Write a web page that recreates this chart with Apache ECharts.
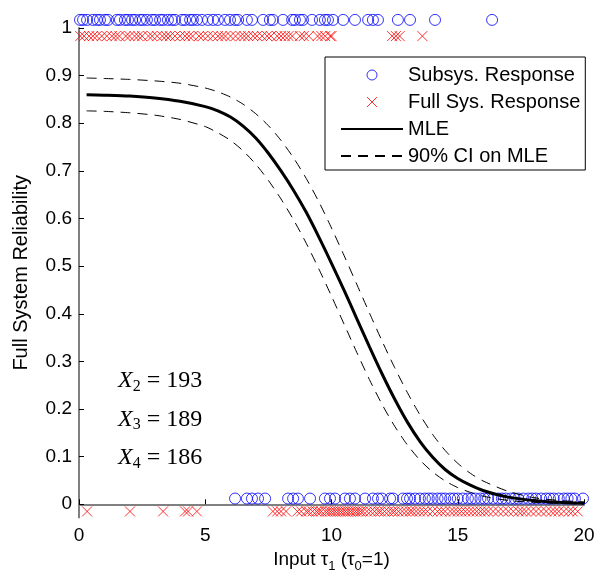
<!DOCTYPE html>
<html>
<head>
<meta charset="utf-8">
<script src="https://cdn.jsdelivr.net/npm/echarts@6/dist/echarts.min.js"></script>
<style>html,body{margin:0;padding:0;background:#fff}#c{width:598px;height:578px}</style>
</head>
<body>
<div id="c"></div>
<script>
// ---- data ----
const subsysTopX = [0.04,0.16,0.32,0.55,0.71,0.83,1.03,1.15,1.50,1.62,1.82,1.94,2.10,2.22,2.42,2.53,2.69,2.89,3.01,3.21,3.33,3.52,3.68,3.80,4.08,4.20,4.40,4.51,4.67,4.87,5.11,5.31,5.50,5.78,5.98,6.18,6.30,6.65,6.85,7.29,7.56,7.68,8.08,8.44,8.55,8.75,8.87,9.23,9.54,9.74,9.86,10.06,10.46,10.93,11.45,11.64,11.84,12.63,13.11,14.10,16.36];
const subsysBottomX = [6.18,6.65,6.85,7.09,7.37,8.28,8.48,8.67,9.15,9.74,9.94,10.14,10.53,10.73,10.93,11.33,11.64,11.84,12.0,12.32,12.44,12.83,12.99,13.11,13.31,13.5,13.7,13.85,14.0,14.2,14.35,14.5,14.7,14.85,15.0,15.2,15.4,15.55,15.7,15.9,16.05,16.2,16.4,16.6,16.75,16.9,17.1,17.25,17.4,17.6,17.8,17.95,18.1,18.3,18.5,18.65,18.8,19.0,19.2,19.35,19.5,19.64,19.96];
const fullTopX = [0.05,0.2,0.4,0.55,0.7,0.9,1.1,1.3,1.45,1.6,1.85,2.0,2.2,2.35,2.5,2.75,2.9,3.1,3.3,3.45,3.6,3.8,4.0,4.2,4.35,4.5,4.75,4.9,5.1,5.3,5.5,5.65,5.8,6.0,6.2,6.4,6.55,6.7,6.9,7.05,7.25,7.45,7.6,7.85,8.0,8.15,8.3,8.45,8.75,8.9,9.1,9.45,9.6,9.75,9.95,10.0,12.4,12.55,12.7,13.6];
const fullBottomX = [0.32,2.02,3.33,4.20,4.32,4.67,7.68,7.85,8.0,8.2,8.65,8.8,9.0,9.1,9.25,9.4,9.5,9.6,9.75,9.85,9.95,10.05,10.15,10.25,10.35,10.45,10.55,10.65,10.75,10.85,10.95,11.05,11.15,11.25,11.4,11.55,11.7,11.85,11.95,12.1,12.25,12.4,12.5,12.65,12.8,12.95,13.1,13.2,13.35,13.5,13.65,13.8,14.0,14.2,14.35,14.5,14.7,14.85,15.0,15.15,15.3,15.45,15.6,15.75,15.9,16.05,16.2,16.4,16.6,16.8,17.0,17.2,17.4,17.55,17.7,17.9,18.1,18.3,18.5,18.7,18.85,19.0,19.2,19.4,19.55,19.75];
const subsysTopY = 1.017, subsysBottomY = 0.012, fullTopY = 0.983, fullBottomY = -0.015;

const curveX = [0.3,1,2,3,4,5,5.5,6,6.5,7,7.5,8,8.5,9,9.5,10,10.5,11,11.5,12,12.5,13,13.5,14,14.5,15,15.5,16,17,18,19,20];
const mleY   = [0.860,0.859,0.857,0.853,0.846,0.835,0.826,0.813,0.794,0.769,0.737,0.700,0.659,0.613,0.561,0.506,0.449,0.390,0.331,0.274,0.221,0.173,0.132,0.099,0.073,0.054,0.040,0.029,0.015,0.008,0.004,0.002];
const ciUpY  = [0.895,0.894,0.892,0.889,0.884,0.874,0.866,0.855,0.840,0.820,0.795,0.764,0.727,0.684,0.635,0.580,0.522,0.462,0.402,0.343,0.287,0.235,0.188,0.147,0.113,0.086,0.065,0.049,0.027,0.014,0.008,0.005];
const ciLoY  = [0.826,0.825,0.822,0.817,0.808,0.793,0.780,0.764,0.742,0.714,0.680,0.641,0.597,0.548,0.494,0.437,0.378,0.319,0.262,0.210,0.164,0.125,0.093,0.068,0.049,0.035,0.025,0.017,0.008,0.004,0.002,0.001];

const yTicks = [0,0.1,0.2,0.3,0.4,0.5,0.6,0.7,0.8,0.9,1];
const xTicks = [0,5,10,15,20];
const annotations = [['2','193'],['3','189'],['4','186']];

// ---- build ----
const pts = (xs, y) => xs.map(x => [x, y]);
const curve = ys => curveX.map((x, i) => [x, ys[i]]);
const FONT = 'Liberation Sans';
const crossPath = 'path://M0,0L10,10M10,0L0,10';

const chart = echarts.init(document.getElementById('c'), null, {renderer: 'canvas'});
chart.setOption({
  animation: false,
  backgroundColor: '#fff',
  grid: {left: 79, right: 14, top: 28, bottom: 55, containLabel: false},
  xAxis: {
    type: 'value', min: 0, max: 20, interval: 5,
    axisLine: {show: true, lineStyle: {color: '#808080', width: 2}},
    axisTick: {show: true, inside: true, length: 5, lineStyle: {color: '#000', width: 1}, customValues: xTicks},
    axisLabel: {color: '#000', fontSize: 19, fontFamily: FONT, margin: 9, customValues: xTicks},
    splitLine: {show: false},
    name: 'Input τ{s|1} (τ{s|0}=1)',
    nameLocation: 'middle', nameGap: 28,
    nameTextStyle: {color: '#000', fontSize: 19, fontFamily: FONT,
      rich: {s: {fontSize: 13, fontFamily: FONT, color: '#000', padding: [13, 0, 0, 0]}}}
  },
  yAxis: {
    type: 'value', min: -0.028, max: 1,
    axisLine: {show: true, lineStyle: {color: '#808080', width: 2}},
    axisTick: {show: true, inside: true, length: 5, lineStyle: {color: '#000', width: 1}, customValues: yTicks},
    axisLabel: {color: '#000', fontSize: 19, fontFamily: FONT, margin: 7, customValues: yTicks,
      formatter: v => (v === 0 ? '0' : v === 1 ? '1' : v.toFixed(1))},
    splitLine: {show: false},
    name: 'Full System Reliability',
    nameLocation: 'middle', nameGap: 48,
    nameTextStyle: {color: '#000', fontSize: 20, fontFamily: FONT}
  },
  legend: {
    left: 325, top: 57, orient: 'vertical',
    backgroundColor: '#fff', borderColor: '#000', borderWidth: 1,
    padding: [8, 5, 4, 15],
    itemWidth: 62, itemHeight: 10, itemGap: 7,
    textStyle: {color: '#000', fontSize: 20, fontFamily: FONT},
    data: [
      {name: 'Subsys. Response', itemStyle: {borderWidth: 1}},
      {name: 'Full Sys. Response', itemStyle: {borderWidth: 1}},
      {name: 'MLE', itemStyle: {opacity: 0}},
      {name: '90% CI on MLE', itemStyle: {opacity: 0}}
    ]
  },
  series: [
    {name: 'Subsys. Response', type: 'scatter', clip: false, symbol: 'circle', symbolSize: 11,
      itemStyle: {color: 'rgba(0,0,0,0)', borderColor: '#0000ff', borderWidth: 1},
      data: pts(subsysTopX, subsysTopY).concat(pts(subsysBottomX, subsysBottomY))},
    {name: 'Full Sys. Response', type: 'scatter', clip: false, symbol: crossPath, symbolSize: 10,
      itemStyle: {color: 'rgba(0,0,0,0)', borderColor: '#ff0000', borderWidth: 1},
      data: pts(fullTopX, fullTopY).concat(pts(fullBottomX, fullBottomY))},
    {name: 'MLE', type: 'line', symbol: 'none', smooth: 0.25, z: 5,
      itemStyle: {color: '#000'},
      lineStyle: {color: '#000', width: 3}, data: curve(mleY)},
    {name: '90% CI on MLE', type: 'line', symbol: 'none', smooth: 0.25,
      itemStyle: {color: '#000'},
      lineStyle: {color: '#000', width: 1, type: [10, 7]}, data: curve(ciUpY)},
    {name: '90% CI on MLE', type: 'line', symbol: 'none', smooth: 0.25,
      itemStyle: {color: '#000'},
      lineStyle: {color: '#000', width: 1, type: [10, 7]}, data: curve(ciLoY)}
  ],
  graphic: annotations.map((a, i) => ({
    type: 'text', left: 118, top: 369 + i * 38.5, z: 10,
    style: {
      text: '{x|X}{s|' + a[0] + '}{n| = ' + a[1] + '}',
      rich: {
        x: {fontFamily: 'Liberation Serif', fontStyle: 'italic', fontSize: 24, fill: '#000'},
        s: {fontFamily: 'Liberation Serif', fontSize: 16, fill: '#000', padding: [11, 0, 0, 0]},
        n: {fontFamily: 'Liberation Serif', fontSize: 24, fill: '#000'}
      }
    }
  }))
});
</script>
</body>
</html>
